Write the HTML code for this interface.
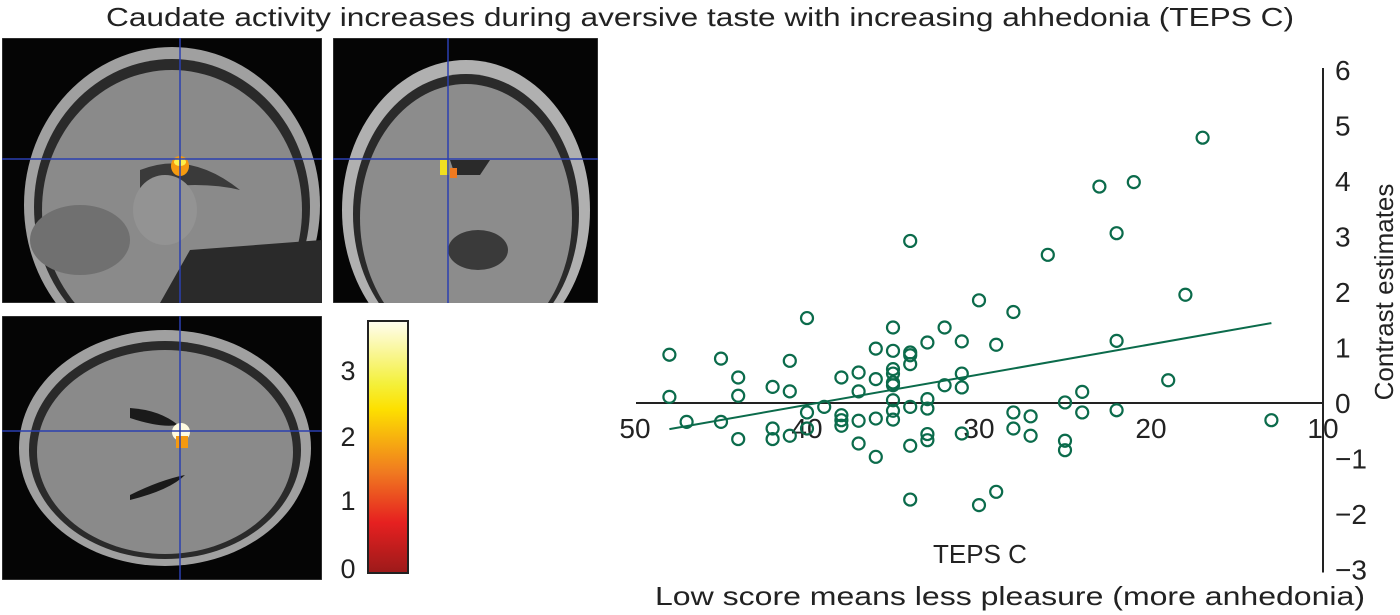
<!DOCTYPE html>
<html><head><meta charset="utf-8"><style>
body{margin:0;background:#fff;width:1400px;height:615px;overflow:hidden;font-family:"Liberation Sans",sans-serif}
svg{position:absolute;left:0;top:0}
</style></head><body>
<svg width="1400" height="615">
<defs>
<linearGradient id="cb" x1="0" y1="0" x2="0" y2="1">
<stop offset="0" stop-color="#fffdf0"/><stop offset="0.25" stop-color="#f4f03a"/><stop offset="0.35" stop-color="#fde000"/><stop offset="0.6" stop-color="#f07a20"/><stop offset="0.8" stop-color="#e62020"/><stop offset="1" stop-color="#9c1a1a"/>
</linearGradient>
<clipPath id="c1"><rect x="2" y="38" width="320" height="265"/></clipPath>
<clipPath id="c2"><rect x="333" y="38" width="265" height="265"/></clipPath>
<clipPath id="c3"><rect x="2" y="316" width="320" height="264"/></clipPath>
</defs>
<text x="700" y="26" text-anchor="middle" font-size="26" textLength="1188" lengthAdjust="spacingAndGlyphs" fill="#222">Caudate activity increases during aversive taste with increasing ahhedonia (TEPS C)</text>

<g clip-path="url(#c1)">
<rect x="2" y="38" width="320" height="265" fill="#050505" stroke="#555"/>
<ellipse cx="172" cy="205" rx="148" ry="158" fill="#a0a0a0"/>
<ellipse cx="172" cy="207" rx="138" ry="148" fill="#2a2a2a"/>
<ellipse cx="172" cy="210" rx="130" ry="140" fill="#8a8a8a"/>
<path d="M140 170 Q190 150 240 190 Q200 180 140 190Z" fill="#3a3a3a"/>
<ellipse cx="165" cy="210" rx="32" ry="35" fill="#939393"/>
<path d="M190 250 L322 240 L322 303 L160 303Z" fill="#2a2a2a"/>
<ellipse cx="80" cy="240" rx="50" ry="35" fill="#707070"/>
<ellipse cx="180" cy="166" rx="9" ry="10" fill="#f59a10"/>
<ellipse cx="180" cy="162" rx="6" ry="4" fill="#fff04a"/>
<line x1="180" y1="38" x2="180" y2="303" stroke="#2b3fb0" stroke-width="1.5"/>
<line x1="2" y1="159" x2="322" y2="159" stroke="#2b3fb0" stroke-width="1.5"/>
</g>

<g clip-path="url(#c2)">
<rect x="333" y="38" width="265" height="265" fill="#050505" stroke="#555"/>
<ellipse cx="466" cy="210" rx="124" ry="150" fill="#b0b0b0"/>
<ellipse cx="466" cy="214" rx="113" ry="140" fill="#2a2a2a"/>
<ellipse cx="466" cy="218" rx="106" ry="134" fill="#8c8c8c"/>
<ellipse cx="478" cy="250" rx="30" ry="20" fill="#3a3a3a"/>
<path d="M450 160 L490 160 L480 175 L455 175Z" fill="#2a2a2a"/>
<rect x="440" y="160" width="9" height="15" fill="#f0e020"/>
<rect x="450" y="168" width="7" height="10" fill="#f07a20"/>
<line x1="448" y1="38" x2="448" y2="303" stroke="#2b3fb0" stroke-width="1.5"/>
<line x1="333" y1="159" x2="598" y2="159" stroke="#2b3fb0" stroke-width="1.5"/>
</g>

<g clip-path="url(#c3)">
<rect x="2" y="316" width="320" height="264" fill="#050505" stroke="#555"/>
<ellipse cx="165" cy="448" rx="146" ry="118" fill="#a0a0a0"/>
<ellipse cx="165" cy="450" rx="136" ry="109" fill="#2a2a2a"/>
<ellipse cx="165" cy="452" rx="128" ry="102" fill="#8a8a8a"/>
<path d="M130 408 Q160 410 178 425 Q160 428 130 418Z" fill="#1a1a1a"/>
<path d="M130 495 Q160 480 185 475 Q170 490 130 500Z" fill="#1a1a1a"/>
<ellipse cx="181" cy="432" rx="9" ry="9" fill="#fffbe0"/>
<rect x="176" y="436" width="12" height="12" fill="#f59a10"/>
<line x1="180" y1="316" x2="180" y2="580" stroke="#2b3fb0" stroke-width="1.5"/>
<line x1="2" y1="431" x2="322" y2="431" stroke="#2b3fb0" stroke-width="1.5"/>
</g>

<g>
<rect x="368" y="321" width="40" height="252" fill="url(#cb)" stroke="#222" stroke-width="2"/>
<g font-size="27" fill="#222" text-anchor="middle">
<text x="348" y="380">3</text>
<text x="348" y="446">2</text>
<text x="348" y="510">1</text>
<text x="348" y="578">0</text>
</g>
</g>

<g id="chart"></g>
<text x="980" y="563" text-anchor="middle" font-size="26" fill="#222">TEPS C</text>
<text x="1010" y="605" text-anchor="middle" font-size="26" textLength="710" lengthAdjust="spacingAndGlyphs" fill="#222">Low score means less pleasure (more anhedonia)</text>
<text transform="translate(1393,292) rotate(-90)" text-anchor="middle" font-size="26" fill="#222">Contrast estimates</text>
</svg>
<script>
const xVals=[48,48,47,45,45,44,44,44,42,42,42,41,41,41,40,40,40,39,38,38,38,38,37,37,37,37,36,36,36,36,35,35,35,35,35,35,35,35,35,34,34,34,34,34,34,34,33,33,33,33,33,32,32,31,31,31,31,30,30,29,29,17,23,21,22,26,18,28,22,19,24,25,28,27,24,22,13,28,27,25,25];
const yVals=[0.87,0.11,-0.34,0.80,-0.34,0.46,0.13,-0.65,0.29,-0.46,-0.65,0.76,0.21,-0.59,1.53,-0.17,-0.46,-0.07,0.46,-0.22,-0.31,-0.41,0.55,0.21,-0.32,-0.73,0.98,0.43,-0.28,-0.97,1.36,0.94,0.61,0.53,0.37,0.32,0.05,-0.14,-0.30,2.92,0.91,0.86,0.70,-0.07,-0.77,-1.74,1.09,0.07,-0.10,-0.56,-0.67,1.36,0.32,1.11,0.53,0.28,-0.55,1.85,-1.84,1.05,-1.60,4.78,3.90,3.98,3.06,2.67,1.95,1.64,1.12,0.41,0.20,0.01,-0.17,-0.24,-0.17,-0.13,-0.31,-0.46,-0.59,-0.68,-0.85];
const fitX=[48,13];
const fitY=[-0.47,1.44];
const xTicks=[50,40,30,20,10];
const yTicks=[6,5,4,3,2,1,0,-1,-2,-3];
const sx=v=>1323-(v-10)*17.2;
const sy=v=>403-v*55.5;
const NS='http://www.w3.org/2000/svg';
const g=document.getElementById('chart');
function mk(t,a){const e=document.createElementNS(NS,t);for(const k in a)e.setAttribute(k,a[k]);g.appendChild(e);return e;}
let e=mk('line',{x1:636,y1:sy(0),x2:sx(10),y2:sy(0),stroke:'#222','stroke-width':2});


e=mk('line',{x1:sx(10),y1:sy(6)-2,x2:sx(10),y2:sy(-3)+3,stroke:'#222','stroke-width':2});


xTicks.forEach(t=>{const el=mk('text',{x:sx(t),y:sy(0)+35,'text-anchor':'middle','font-size':28,fill:'#222'});el.textContent=t;

});
yTicks.forEach(t=>{const el=mk('text',{x:sx(10)+12,y:sy(t)+10,'font-size':28,fill:'#222'});el.textContent=t<0?'\u2212'+(-t):t;

});
e=mk('line',{x1:sx(fitX[0]),y1:sy(fitY[0]),x2:sx(fitX[1]),y2:sy(fitY[1]),stroke:'#0b6b4b','stroke-width':2});


xVals.forEach((x,i)=>{const c=mk('circle',{cx:sx(x),cy:sy(yVals[i]),r:6,fill:'none',stroke:'#0b6b4b','stroke-width':2.2});

});
</script>
</body></html>
